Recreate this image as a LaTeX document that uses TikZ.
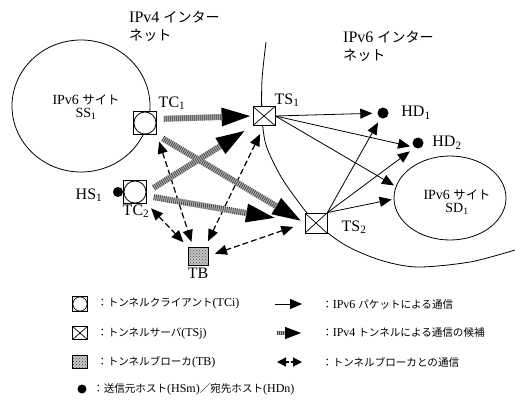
\documentclass[tikz,border=0pt]{standalone}
\usepackage{fontspec}
\setmainfont{Liberation Serif}
\newfontfamily\jp{Noto Sans CJK JP}[Scale=0.88]
\usetikzlibrary{arrows.meta,patterns,shapes.geometric,calc}
\begin{document}
\begin{tikzpicture}[x=1pt,y=-1pt,
  lbl/.style={inner sep=0pt, font=\fontsize{16}{18}\selectfont},
  sitelbl/.style={inner sep=0pt, align=center, font=\fontsize{14}{13}\selectfont},
  netlbl/.style={inner sep=0pt, align=left, anchor=north west, font=\fontsize{16}{17.5}\selectfont},
  leg/.style={inner sep=0pt, anchor=west, font=\fontsize{12}{14}\selectfont},
  tcbox/.style={draw, fill=white, minimum size=#1, inner sep=0pt, line width=0.8pt,
    path picture={\draw[line width=0.8pt] (path picture bounding box.center) circle[radius=0.48*#1];}},
  tsbox/.style 2 args={draw, fill=white, minimum width=#1, minimum height=#2, inner sep=0pt, line width=0.8pt,
    path picture={\draw[line width=0.7pt] (path picture bounding box.north west) -- (path picture bounding box.south east)
      (path picture bounding box.north east) -- (path picture bounding box.south west);}},
  tbbox/.style 2 args={draw, minimum width=#1, minimum height=#2, inner sep=0pt, line width=0.7pt,
    preaction={fill=black!22}, pattern=crosshatch dots, pattern color=black!75},
  hostdot/.style={circle, fill=black, minimum size=#1, inner sep=0pt},
  v6arrow/.style={line width=0.8pt, -{Triangle[length=12pt,width=10pt]}},
  broker/.style={line width=1.2pt, dash pattern=on 6pt off 3pt,
    {Triangle[length=12pt,width=10pt]}-{Triangle[length=12pt,width=10pt]}},
  tunnel/.style 2 args={line width=6pt, draw=black!30, shorten <=#1, shorten >=#2,
    -{Triangle[length=30pt,width=17pt,black]},
    postaction={draw=black!75, line width=6pt, dash pattern=on 0.7pt off 1.3pt, -,
      shorten <=#1, shorten >=#2+29pt}}
]
\useasboundingbox (0,0) rectangle (515,402);

% IPv6 site SS1 (behind TC1)
\draw[line width=0.8pt] (81,106) ellipse [x radius=69pt, y radius=66pt];
% IPv6 internet boundary
\draw[line width=0.8pt] plot[smooth, tension=0.5] coordinates {(266,42) (262,80) (262,116) (266,145) (280,175) (297,200) (316,223) (345,245) (380,260) (417,267) (470,262) (515,250)};

% nodes
\node[ellipse, draw, line width=0.8pt, minimum width=112pt, minimum height=84pt] (sd1) at (450,198) {};
\node[tcbox=23pt] (tc1) at (145,123) {};
\node[tcbox=23pt] (tc2) at (135,192) {};
\node[tsbox={22pt}{19pt}] (ts1) at (264,116) {};
\node[tsbox={22pt}{20pt}] (ts2) at (316,223) {};
\node[tbbox={20pt}{18pt}] (tb) at (198,256) {};
\node[hostdot=10pt] (hs1) at (118,192) {};
\node[hostdot=11pt] (hd1) at (383,113) {};
\node[hostdot=11pt] (hd2) at (418,143) {};

% labels
\node[netlbl] (l4) at (129,11) {IPv4 {\jp インター}\\{\jp ネット}};
\node[netlbl] (l6) at (343,31) {IPv6 {\jp インター}\\{\jp ネット}};
\node[sitelbl] (ss1t) at (86,107) {IPv6 {\jp サイト}\\SS\textsubscript{1}};
\node[sitelbl] (sd1t) at (457,202) {IPv6 {\jp サイト}\\SD\textsubscript{1}};
\node[lbl] (tc1l) at (172,103) {TC\textsubscript{1}};
\node[lbl] (ts1l) at (287,100) {TS\textsubscript{1}};
\node[lbl] (hd1l) at (416,113) {HD\textsubscript{1}};
\node[lbl] (hd2l) at (447,143) {HD\textsubscript{2}};
\node[lbl] (ts2l) at (354,227) {TS\textsubscript{2}};
\node[lbl] (hs1l) at (89,195) {HS\textsubscript{1}};
\node[lbl] (tc2l) at (136,211) {TC\textsubscript{2}};
\node[lbl] (tbl) at (198,273) {TB};

% IPv6 packet arrows
\draw[v6arrow, shorten >=5pt] (ts1.east) -- (hd1);
\draw[v6arrow, shorten >=3pt] (ts1.east) -- ([shift={(-5pt,-4pt)}]hd2.center);
\draw[v6arrow, shorten >=2pt] (ts1.east) -- (sd1.168);
\draw[v6arrow, shorten >=4pt] (ts2.north east) -- ([shift={(-3pt,-6pt)}]hd1.center);
\draw[v6arrow, shorten >=4pt] (ts2.north east) -- ([shift={(-5pt,-6pt)}]hd2.center);
\draw[v6arrow, shorten >=2pt] (ts2.north east) -- (sd1.181);

% broker arrows
\draw[broker, shorten <=7pt, shorten >=5pt] (tc1.south east) -- ([xshift=-5pt]tb.north);
\draw[broker, shorten <=9pt, shorten >=6pt] (ts1.south) -- ([xshift=-3pt]tb.north east);
\draw[broker, shorten <=6pt, shorten >=6pt] (tc2.south east) -- (tb.north west);
\draw[broker, shorten <=12pt, shorten >=7pt] (ts2.west) -- (tb.east);

% tunnel arrows
\draw[tunnel={7pt}{1pt}] ([yshift=4pt]tc1.east) -- (ts1.west);
\draw[tunnel={7pt}{3pt}] (tc1.south east) -- (ts2.west);
\draw[tunnel={8pt}{8pt}] (tc2.east) -- (ts1.south west);
\draw[tunnel={7pt}{29pt}] ([yshift=-4pt]tc2.east) -- (ts2.west);

% legend
\node[tcbox=15pt] (ktc) at (80,304) {};
\node[tsbox={15pt}{13pt}] (kts) at (80,333) {};
\node[tbbox={15pt}{13pt}] (ktb) at (80,362) {};
\node[hostdot=9pt] (kdot) at (82,389) {};
\node[leg] (t1) at (97,304) {{\jp ：トンネルクライアント}(TCi)};
\node[leg] (t2) at (97,333) {{\jp ：トンネルサーバ}(TSj)};
\node[leg] (t3) at (97,362) {{\jp ：トンネルブローカ}(TB)};
\node[leg] (t4) at (93,389) {{\jp ：送信元ホスト}(HSm){\jp ／宛先ホスト}(HDn)};

\coordinate (a1) at (275,304); \coordinate (b1) at (302,304);
\coordinate (a2) at (277,333); \coordinate (b2) at (302,333);
\coordinate (a3) at (277,362); \coordinate (b3) at (302,362);
\draw[v6arrow] (a1) -- (b1);
\draw[line width=4pt, draw=black!30, -{Triangle[length=17pt,width=11pt,black]},
  postaction={draw=black!75, line width=4pt, dash pattern=on 0.7pt off 1.3pt, -, shorten >=17pt}] (a2) -- (b2);
\draw[line width=1.2pt, dash pattern=on 3pt off 2pt, {Triangle[length=9pt,width=9pt]}-{Triangle[length=9pt,width=9pt]}] (a3) -- (b3);
\node[leg] (r1) at (322,304) {{\jp ：}IPv6 {\jp パケットによる通信}};
\node[leg] (r2) at (322,333) {{\jp ：}IPv4 {\jp トンネルによる通信の候補}};
\node[leg] (r3) at (322,362) {{\jp ：トンネルブローカとの通信}};
\end{tikzpicture}
\end{document}
